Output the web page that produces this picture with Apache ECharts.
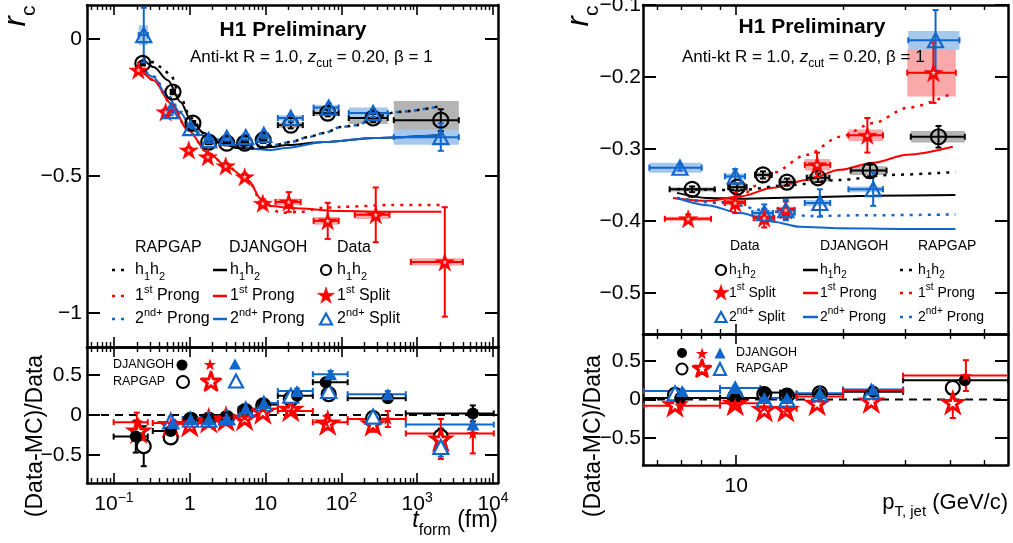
<!DOCTYPE html>
<html><head><meta charset="utf-8">
<script src="https://cdn.jsdelivr.net/npm/echarts@6/dist/echarts.min.js"></script>
<style>html,body{margin:0;padding:0;background:#fff}#c{width:1013px;height:543px}</style>
</head><body><div id="c"></div>
<script>
// ================= DATA =================
// ---- Left: r_c vs t_form (fm) ----
const L_XRANGE = [0.04406, 11640];
const L_YRANGE = [-1.125, 0.125];
const LR_YRANGE = [-0.85, 0.85];
const L_XTICK_VALUES = [0.1, 1, 10, 100, 1000, 10000];
const L_XTICK_LABELS = ['10{s|\u22121}', '1', '10', '10{s|2}', '10{s|3}', '10{s|4}'];
const L_YTICKS = [-1, -0.5, 0];
const R_YTICKS_RATIO = [-0.5, 0, 0.5];

// Data h1h2 (open circles)
const L_h1h2_x   = [0.24, 0.6, 1.1, 1.78, 3.08, 5.3, 9.3, 21.5, 66, 262, 2048];
const L_h1h2_y   = [-0.088, -0.193, -0.307, -0.376, -0.38, -0.38, -0.369, -0.314, -0.27, -0.288, -0.296];
const L_h1h2_xlo = [0.225, 0.56, 1.02, 1.62, 2.8, 4.8, 8.4, 14.5, 43, 125, 491];
const L_h1h2_xhi = [0.255, 0.64, 1.18, 1.95, 3.4, 5.9, 10.3, 31, 92, 409, 3540];
const L_h1h2_err = [0.008, 0.008, 0.008, 0.008, 0.008, 0.008, 0.01, 0.012, 0.012, 0.015, 0.04];
const L_h1h2_sys = [0.008, 0.012, 0.008, 0.006, 0.006, 0.006, 0.008, 0.01, 0.01, 0.022, 0.07];
// Data 1st split (stars)
const L_s1_x   = [0.21, 0.48, 0.97, 1.73, 2.98, 5.3, 9.2, 20.2, 66, 284, 2312];
const L_s1_y   = [-0.113, -0.266, -0.405, -0.43, -0.463, -0.503, -0.6, -0.595, -0.664, -0.642, -0.814];
const L_s1_xlo = [0.195, 0.44, 0.9, 1.6, 2.75, 4.9, 8.3, 13.5, 43, 150, 824];
const L_s1_xhi = [0.225, 0.52, 1.05, 1.88, 3.25, 5.8, 10.3, 29, 92, 430, 4000];
const L_s1_err = [0.01, 0.012, 0.01, 0.01, 0.01, 0.012, 0.015, 0.036, 0.066, 0.1, 0.2];
const L_s1_sys = [0.008, 0.01, 0.008, 0.008, 0.008, 0.01, 0.012, 0.012, 0.014, 0.015, 0.013];
// Data 2nd+ split (triangles)
const L_s2_x   = [0.247, 0.56, 1.03, 1.78, 3.08, 5.48, 9.47, 21.5, 68, 262, 2048];
const L_s2_y   = [0.015, -0.263, -0.325, -0.369, -0.361, -0.358, -0.35, -0.288, -0.25, -0.27, -0.358];
const L_s2_xlo = [0.212, 0.52, 0.95, 1.6, 2.78, 4.95, 8.5, 14.5, 43, 125, 491];
const L_s2_xhi = [0.28, 0.6, 1.12, 1.98, 3.4, 6.05, 10.6, 31, 92, 409, 3540];
const L_s2_err = [0.1, 0.015, 0.01, 0.01, 0.01, 0.01, 0.012, 0.012, 0.015, 0.015, 0.05];
const L_s2_sys = [0.036, 0.01, 0.008, 0.006, 0.006, 0.006, 0.008, 0.01, 0.01, 0.02, 0.028];

// Model curves (left)
const L_dj_h1h2_x = [0.206, 0.24, 0.334, 0.513, 0.759, 1.03, 1.53, 2.57, 4.31, 7.0, 11.7, 19.5, 58.9, 269, 2089];
const L_dj_h1h2_y = [-0.088, -0.077, -0.102, -0.15, -0.23, -0.296, -0.343, -0.38, -0.398, -0.401, -0.394, -0.387, -0.376, -0.361, -0.35];
const L_rg_h1h2_x = [0.24, 0.334, 0.415, 0.56, 0.76, 1.03, 1.63, 2.57, 4.31, 7.0, 11.7, 21.5, 36, 58.9, 98, 164, 269, 552, 2048];
const L_rg_h1h2_y = [-0.069, -0.084, -0.102, -0.131, -0.215, -0.288, -0.35, -0.38, -0.394, -0.398, -0.39, -0.376, -0.358, -0.343, -0.321, -0.314, -0.285, -0.266, -0.245];
const L_dj_p1_x = [0.206, 0.334, 0.562, 0.942, 1.74, 3.16, 5.89, 8.71, 11.7, 21.4, 97.7, 457, 2089];
const L_dj_p1_y = [-0.095, -0.15, -0.234, -0.332, -0.416, -0.467, -0.515, -0.584, -0.61, -0.617, -0.628, -0.631, -0.631];
const L_rg_p1_x = [0.206, 0.334, 0.562, 0.942, 1.74, 3.16, 5.89, 8.71, 15.9, 29.2, 53.7, 98, 452, 2089];
const L_rg_p1_y = [-0.095, -0.15, -0.234, -0.332, -0.416, -0.467, -0.515, -0.59, -0.635, -0.631, -0.617, -0.613, -0.606, -0.606];
const L_dj_p2_x = [0.214, 0.334, 0.513, 0.759, 1.03, 1.4, 2.19, 4.07, 7.0, 11.7, 18.6, 58.9, 269, 2089];
const L_dj_p2_y = [-0.095, -0.139, -0.212, -0.27, -0.321, -0.35, -0.365, -0.387, -0.401, -0.405, -0.398, -0.376, -0.361, -0.35];
const L_rg_p2_x = [0.214, 0.334, 0.513, 0.759, 1.03, 1.4, 2.19, 4.07, 7.0, 12.8, 21.5, 36, 58.9, 98, 164, 269, 552, 2048];
const L_rg_p2_y = [-0.095, -0.135, -0.205, -0.265, -0.318, -0.345, -0.362, -0.38, -0.39, -0.387, -0.376, -0.358, -0.343, -0.321, -0.314, -0.285, -0.266, -0.245];

// Left ratio (Data-MC)/Data
const LR_binlo = [0.099, 0.325, 0.81, 1.4, 2.4, 4.4, 7.9, 14.5, 42, 121, 707];
const LR_binhi = [0.279, 0.653, 1.4, 2.4, 4.4, 7.9, 14.5, 42, 121, 707, 10230];
const LR_dj_h1h2_x = [0.194, 0.56, 1.03, 1.78, 3.08, 5.4, 9.3, 26, 62, 409, 5420];
const LR_dj_h1h2_y = [-0.27, -0.2, -0.05, -0.06, -0.03, 0.06, 0.13, 0.24, 0.41, 0.21, 0.02];
const LR_dj_h1h2_e = [0.2, 0.04, 0.02, 0.02, 0.02, 0.02, 0.03, 0.03, 0.04, 0.04, 0.1];
const LR_rg_h1h2_x = [0.247, 0.56, 1.03, 1.78, 3.08, 5.4, 9.3, 21.5, 68, 262, 2048];
const LR_rg_h1h2_y = [-0.39, -0.28, -0.06, -0.06, -0.04, 0.05, 0.12, 0.2, 0.26, -0.04, -0.27];
const LR_rg_h1h2_e = [0.25, 0.04, 0.02, 0.02, 0.02, 0.02, 0.03, 0.03, 0.04, 0.04, 0.1];
const LR_dj_s1_x = [0.2, 0.56, 1.0, 1.78, 3.0, 5.3, 9.2, 22, 62, 409, 5420];
const LR_dj_s1_y = [-0.09, -0.1, -0.08, -0.07, -0.04, -0.02, 0.08, 0.05, -0.09, -0.05, -0.23];
const LR_dj_s1_e = [0.12, 0.04, 0.02, 0.02, 0.02, 0.03, 0.04, 0.05, 0.08, 0.1, 0.25];
const LR_rg_s1_x = [0.212, 0.56, 1.0, 1.78, 3.0, 5.3, 9.2, 21.5, 66, 262, 2048];
const LR_rg_s1_y = [-0.2, -0.12, -0.12, -0.07, -0.05, -0.04, 0.04, 0.07, -0.1, -0.11, -0.3];
const LR_rg_s1_e = [0.12, 0.04, 0.02, 0.02, 0.02, 0.03, 0.04, 0.05, 0.08, 0.1, 0.25];
const LR_dj_s2_x = [null, 0.6, 1.03, 1.78, 3.08, 5.48, 9.47, 26, 72, 409, 5420];
const LR_dj_s2_y = [null, -0.1, -0.05, -0.05, -0.04, 0.08, 0.15, 0.3, 0.51, 0.26, -0.12];
const LR_dj_s2_e = [null, 0.04, 0.02, 0.02, 0.02, 0.02, 0.03, 0.03, 0.04, 0.04, 0.1];
const LR_rg_s2_x = [null, 0.56, 1.03, 1.78, 3.08, 5.48, 9.47, 21.5, 68, 262, 2048];
const LR_rg_s2_y = [null, -0.08, -0.06, -0.06, -0.03, 0.07, 0.14, 0.24, 0.3, -0.02, -0.4];
const LR_rg_s2_e = [null, 0.06, 0.02, 0.02, 0.02, 0.02, 0.03, 0.03, 0.04, 0.04, 0.12];

// ---- Right: r_c vs pT,jet (GeV/c) ----
const R_XRANGE = [5.47, 58.2];
const R_YRANGE = [-0.557, -0.1];
const R_XTICK_MAJOR = [10];
const R_XTICK_LABELS = ['10'];
const R_XTICK_MINOR = [6, 7, 8, 9, 20, 30, 40, 50];
const R_YTICKS = [-0.5, -0.4, -0.3, -0.2, -0.1];

const R_h1h2_x   = [7.52, 10.07, 11.9, 13.9, 17.0, 23.8, 37.1];
const R_h1h2_y   = [-0.356, -0.353, -0.336, -0.346, -0.34, -0.33, -0.283];
const R_h1h2_xlo = [6.5, 9.5, 11.3, 13.3, 15.8, 21.0, 31.0];
const R_h1h2_xhi = [8.7, 10.7, 12.6, 14.6, 18.3, 26.5, 44.0];
const R_h1h2_err = [0.004, 0.005, 0.005, 0.005, 0.006, 0.008, 0.015];
const R_h1h2_sys = [0.003, 0.006, 0.004, 0.005, 0.005, 0.006, 0.008];
const R_s1_x   = [7.33, 9.94, 12.0, 13.8, 16.9, 23.4, 35.9];
const R_s1_y   = [-0.397, -0.375, -0.396, -0.385, -0.322, -0.281, -0.194];
const R_s1_xlo = [6.3, 9.3, 11.2, 13.1, 15.6, 20.7, 30.3];
const R_s1_xhi = [8.5, 10.6, 12.8, 14.6, 18.4, 25.9, 41.5];
const R_s1_err = [0.006, 0.014, 0.013, 0.012, 0.017, 0.024, 0.042];
const R_s1_sys = [0.003, 0.004, 0.005, 0.005, 0.008, 0.008, 0.033];
const R_s2_x   = [6.95, 9.94, 12.0, 13.8, 17.2, 24.3, 36.4];
const R_s2_y   = [-0.326, -0.338, -0.389, -0.385, -0.375, -0.356, -0.149];
const R_s2_xlo = [5.7, 9.3, 11.1, 13.1, 15.6, 20.7, 30.5];
const R_s2_xhi = [8.0, 10.6, 12.7, 14.6, 18.4, 25.9, 42.5];
const R_s2_err = [0.004, 0.01, 0.012, 0.014, 0.019, 0.023, 0.042];
const R_s2_sys = [0.007, 0.004, 0.004, 0.004, 0.004, 0.004, 0.013];

const R_dj_h1h2_x = [6.82, 8.28, 10.3, 15.8, 24.3, 41.4];
const R_dj_h1h2_y = [-0.361, -0.368, -0.369, -0.367, -0.365, -0.364];
const R_rg_h1h2_x = [6.82, 10.3, 14.2, 19.6, 27.1, 41.4];
const R_rg_h1h2_y = [-0.356, -0.357, -0.35, -0.343, -0.336, -0.332];
const R_dj_p1_x = [6.65, 8.28, 10.26, 12.7, 15.8, 19.6, 24.3, 30.3, 40.7];
const R_dj_p1_y = [-0.368, -0.372, -0.366, -0.354, -0.343, -0.329, -0.319, -0.308, -0.297];
const R_rg_p1_x = [6.82, 8.84, 10.26, 11.5, 12.7, 15.8, 19.6, 24.3, 30.3, 40.7];
const R_rg_p1_y = [-0.368, -0.375, -0.366, -0.35, -0.333, -0.308, -0.283, -0.264, -0.243, -0.222];
const R_dj_p2_x = [6.82, 8.28, 10.26, 12.7, 15.1, 19.6, 28.9, 41.4];
const R_dj_p2_y = [-0.368, -0.378, -0.389, -0.401, -0.408, -0.41, -0.411, -0.411];
const R_rg_p2_x = [6.82, 9.19, 12.7, 16.1, 24.3, 41.4];
const R_rg_p2_y = [-0.368, -0.375, -0.387, -0.393, -0.392, -0.391];

// Right ratio
const RR_binlo = [5.47, 9.01, 11.7, 13.3, 14.8, 20.0, 29.5];
const RR_binhi = [9.01, 11.7, 13.3, 14.8, 20.0, 29.5, 58.2];
const RR_dj_h1h2_x = [6.96, 9.94, 12.0, 13.9, 17.2, 24.3, 44.0];
const RR_dj_h1h2_y = [0.02, 0.02, 0.09, 0.06, 0.07, 0.1, 0.25];
const RR_dj_h1h2_e = [0.02, 0.02, 0.02, 0.02, 0.02, 0.03, 0.05];
const RR_rg_h1h2_x = [6.73, 9.94, 12.0, 13.9, 17.2, 24.0, 40.7];
const RR_rg_h1h2_y = [0.06, 0.04, 0.07, 0.05, 0.08, 0.04, 0.15];
const RR_rg_h1h2_e = [0.02, 0.02, 0.02, 0.02, 0.02, 0.03, 0.05];
const RR_dj_s1_x = [6.96, 9.94, 12.0, 13.9, 17.2, 24.3, 44.3];
const RR_dj_s1_y = [-0.08, -0.05, -0.1, -0.12, 0.04, 0.12, 0.31];
const RR_dj_s1_e = [0.03, 0.03, 0.03, 0.03, 0.03, 0.04, 0.2];
const RR_rg_s1_x = [6.73, 9.94, 12.0, 13.8, 16.9, 24.0, 40.7];
const RR_rg_s1_y = [-0.07, -0.05, -0.13, -0.13, -0.05, -0.02, -0.04];
const RR_rg_s1_e = [0.03, 0.03, 0.03, 0.03, 0.03, 0.04, 0.2];
const RR_dj_s2_x = [7.05, 9.94, 12.0, 13.9, 17.2, 24.3, null];
const RR_dj_s2_y = [0.11, 0.15, 0.02, 0.02, 0.08, 0.13, null];
const RR_dj_s2_e = [0.02, 0.02, 0.02, 0.02, 0.02, 0.03, null];
const RR_rg_s2_x = [6.73, 9.94, 12.0, 13.9, 17.2, 24.0, null];
const RR_rg_s2_y = [0.08, 0.13, 0.0, 0.0, 0.07, 0.1, null];
const RR_rg_s2_e = [0.02, 0.02, 0.02, 0.02, 0.02, 0.03, null];

// ================= STYLE =================
const FONT = '"Liberation Sans", Arial, Helvetica, sans-serif';
const RED = '#ff0000', BLUE = '#1166cc', BLACK = '#000000';
const BAND_GRAY = '#b4b4b4', BAND_RED = '#f9a9a9', BAND_BLUE = '#a5c8ec';
const NONE = 'rgba(0,0,0,0)';
const STAR = 'path://M0,-10L2.245,-3.09L9.511,-3.09L3.633,1.18L5.878,8.09L0,3.82L-5.878,8.09L-3.633,1.18L-9.511,-3.09L-2.245,-3.09Z';
const lg = Math.log10;

// ================= HELPERS =================
function xAxesFor(gi, range, majors, minors, labels) {
  const base = {type: 'value', gridIndex: gi, min: lg(range[0]), max: lg(range[1]), splitLine: {show: false},
    axisLine: {show: true, onZero: false, lineStyle: {color: BLACK, width: 2.5}}};
  const maj = majors.map(lg), mnr = minors.map(lg);
  const tickMaj = {show: true, inside: true, length: 10, customValues: maj, lineStyle: {color: BLACK, width: 1.6}};
  const tickMin = {show: true, inside: true, length: 5, customValues: mnr, lineStyle: {color: BLACK, width: 1.4}};
  const lab = labels ? {show: true, customValues: maj, margin: 8, color: BLACK, fontFamily: FONT, fontSize: 21, lineHeight: 26,
      formatter: (v) => { const i = maj.findIndex(m => Math.abs(m - v) < 1e-6); return i >= 0 ? labels[i] : ''; },
      rich: {b: {fontFamily: FONT, fontSize: 21, lineHeight: 26, verticalAlign: 'middle'},
             s: {fontFamily: FONT, fontSize: 14, lineHeight: 16, verticalAlign: 'top'}}} : {show: false};
  return [
    Object.assign({}, base, {position: 'bottom', axisTick: tickMaj, axisLabel: lab}),
    Object.assign({}, base, {position: 'bottom', axisLine: {show: false, onZero: false}, axisTick: tickMin, axisLabel: {show: false}}),
    Object.assign({}, base, {position: 'top', axisTick: tickMaj, axisLabel: {show: false}}),
    Object.assign({}, base, {position: 'top', axisLine: {show: false, onZero: false}, axisTick: tickMin, axisLabel: {show: false}})
  ];
}
function yAxesFor(gi, range, ticks, margin) {
  const base = {type: 'value', gridIndex: gi, min: range[0], max: range[1], splitLine: {show: false},
    axisLine: {show: true, onZero: false, lineStyle: {color: BLACK, width: 2.5}},
    axisTick: {show: true, inside: true, length: 13, customValues: ticks, lineStyle: {color: BLACK, width: 2}}};
  return [
    Object.assign({}, base, {position: 'left', axisLabel: {show: true, customValues: ticks, margin: margin, color: BLACK, fontFamily: FONT, fontSize: 21,
      formatter: v => (v < 0 ? '\u2212' + String(Math.abs(v)) : String(v))}}),
    Object.assign({}, base, {position: 'right', axisLabel: {show: false}})
  ];
}
function errSeries(gi, xs, ys, xlo, xhi, err, color) {
  const data = [];
  xs.forEach((x, i) => {
    if (x == null || ys[i] == null) return;
    data.push([lg(x), ys[i], xlo ? lg(xlo[i]) : 0, xhi ? lg(xhi[i]) : 0, err ? err[i] : 0, xlo ? 1 : 0]);
  });
  return {type: 'custom', xAxisIndex: gi * 4, yAxisIndex: gi * 2, z: 3, clip: true, silent: true,
    encode: {x: 0, y: 1}, data,
    renderItem: (p, api) => {
      const x = api.value(0), y = api.value(1), xl = api.value(2), xh = api.value(3), e = api.value(4), hb = api.value(5);
      const ch = [], cap = 3;
      const L = (x1, y1, x2, y2) => ch.push({type: 'line', shape: {x1, y1, x2, y2}, style: {stroke: color, lineWidth: 2}});
      if (hb) {
        const a = api.coord([xl, y]), b = api.coord([xh, y]);
        L(a[0], a[1], b[0], b[1]); L(a[0], a[1] - cap, a[0], a[1] + cap); L(b[0], b[1] - cap, b[0], b[1] + cap);
      }
      if (e > 0) {
        const t = api.coord([x, y + e]), b = api.coord([x, y - e]);
        L(t[0], t[1], b[0], b[1]); L(t[0] - cap, t[1], t[0] + cap, t[1]); L(b[0] - cap, b[1], b[0] + cap, b[1]);
      }
      return {type: 'group', children: ch};
    }};
}
function bandSeries(gi, xs, ys, xlo, xhi, sys, color) {
  const data = xs.map((x, i) => [lg(xlo[i]), lg(xhi[i]), ys[i], sys[i]]);
  return {type: 'custom', xAxisIndex: gi * 4, yAxisIndex: gi * 2, z: 1, clip: true, silent: true,
    encode: {x: [0, 1], y: 2}, data,
    renderItem: (p, api) => {
      const a = api.coord([api.value(0), api.value(2) + api.value(3)]);
      const b = api.coord([api.value(1), api.value(2) - api.value(3)]);
      return {type: 'rect', shape: {x: a[0], y: a[1], width: b[0] - a[0], height: b[1] - a[1]}, style: {fill: color}};
    }};
}
function curve(gi, xs, ys, color, dotted) {
  return {type: 'line', xAxisIndex: gi * 4, yAxisIndex: gi * 2, data: xs.map((x, i) => [lg(x), ys[i]]),
    showSymbol: false, symbol: 'none', smooth: 0.3, smoothMonotone: 'x', silent: true, z: 2,
    lineStyle: {color, width: dotted ? 2.5 : 2, type: dotted ? [3, 6] : 'solid'}};
}
function marks(gi, xs, ys, symbol, size, fill, stroke, bw, z) {
  const data = [];
  xs.forEach((x, i) => { if (x != null && ys[i] != null) data.push([lg(x), ys[i]]); });
  return {type: 'scatter', xAxisIndex: gi * 4, yAxisIndex: gi * 2, data, symbol, symbolSize: size, silent: true, z: z || 4,
    itemStyle: {color: fill, borderColor: stroke, borderWidth: bw, opacity: 1}};
}
function zeroLine(gi, range) {
  return {type: 'line', xAxisIndex: gi * 4, yAxisIndex: gi * 2, data: [[lg(range[0]), 0], [lg(range[1]), 0]],
    showSymbol: false, symbol: 'none', silent: true, z: 1, lineStyle: {color: BLACK, width: 2, type: [8, 6]}};
}

// minor ticks for left log axis
const L_XTICK_MINOR = [];
for (let n = -2; n <= 4; n++) for (let k = 2; k <= 9; k++) {
  const v = k * Math.pow(10, n);
  if (v > L_XRANGE[0] && v < L_XRANGE[1]) L_XTICK_MINOR.push(v);
}

// ================= SERIES =================
const series = [];
// --- grid 0: left main ---
series.push(bandSeries(0, L_h1h2_x, L_h1h2_y, L_h1h2_xlo, L_h1h2_xhi, L_h1h2_sys, BAND_GRAY));
series.push(bandSeries(0, L_s1_x, L_s1_y, L_s1_xlo, L_s1_xhi, L_s1_sys, BAND_RED));
series.push(bandSeries(0, L_s2_x, L_s2_y, L_s2_xlo, L_s2_xhi, L_s2_sys, BAND_BLUE));
series.push(curve(0, L_dj_h1h2_x, L_dj_h1h2_y, BLACK, false));
series.push(curve(0, L_dj_p1_x, L_dj_p1_y, RED, false));
series.push(curve(0, L_dj_p2_x, L_dj_p2_y, BLUE, false));
series.push(curve(0, L_rg_h1h2_x, L_rg_h1h2_y, BLACK, true));
series.push(curve(0, L_rg_p1_x, L_rg_p1_y, RED, true));
series.push(curve(0, L_rg_p2_x, L_rg_p2_y, BLUE, true));
series.push(errSeries(0, L_h1h2_x, L_h1h2_y, L_h1h2_xlo, L_h1h2_xhi, L_h1h2_err, BLACK));
series.push(errSeries(0, L_s1_x, L_s1_y, L_s1_xlo, L_s1_xhi, L_s1_err, RED));
series.push(errSeries(0, L_s2_x, L_s2_y, L_s2_xlo, L_s2_xhi, L_s2_err, BLUE));
series.push(marks(0, L_h1h2_x, L_h1h2_y, 'circle', 15, NONE, BLACK, 2.2));
series.push(marks(0, L_s1_x, L_s1_y, STAR, [19, 18], RED, RED, 0.5));
series.push(marks(0, L_s1_x, L_s1_y, STAR, [5, 5], '#ffc0c0', '#ffc0c0', 0, 5));
series.push(marks(0, L_s2_x, L_s2_y, 'triangle', [15, 14], NONE, BLUE, 2.2));
// --- grid 1: left ratio ---
series.push(zeroLine(1, L_XRANGE));
series.push(errSeries(1, LR_dj_h1h2_x, LR_dj_h1h2_y, LR_binlo, LR_binhi, LR_dj_h1h2_e, BLACK));
series.push(errSeries(1, LR_dj_s2_x, LR_dj_s2_y, LR_binlo, LR_binhi, LR_dj_s2_e, BLUE));
series.push(errSeries(1, LR_dj_s1_x, LR_dj_s1_y, LR_binlo, LR_binhi, LR_dj_s1_e, RED));
series.push(errSeries(1, LR_rg_h1h2_x, LR_rg_h1h2_y, null, null, LR_rg_h1h2_e, BLACK));
series.push(errSeries(1, LR_rg_s1_x, LR_rg_s1_y, null, null, LR_rg_s1_e, RED));
series.push(errSeries(1, LR_rg_s2_x, LR_rg_s2_y, null, null, LR_rg_s2_e, BLUE));
series.push(marks(1, LR_rg_h1h2_x, LR_rg_h1h2_y, 'circle', 14, '#fff', BLACK, 2.2));
series.push(marks(1, LR_rg_s1_x, LR_rg_s1_y, STAR, [19, 18], '#fff', RED, 3));
series.push(marks(1, LR_rg_s2_x, LR_rg_s2_y, 'triangle', [15, 14], '#fff', BLUE, 2.2));
series.push(marks(1, LR_dj_h1h2_x, LR_dj_h1h2_y, 'circle', 12, BLACK, BLACK, 0, 5));
series.push(marks(1, LR_dj_s1_x, LR_dj_s1_y, STAR, [12, 11.5], RED, RED, 0, 5));
series.push(marks(1, LR_dj_s2_x, LR_dj_s2_y, 'triangle', [13, 12], BLUE, BLUE, 0, 5));
// --- grid 2: right main ---
series.push(bandSeries(2, R_h1h2_x, R_h1h2_y, R_h1h2_xlo, R_h1h2_xhi, R_h1h2_sys, BAND_GRAY));
series.push(bandSeries(2, R_s1_x, R_s1_y, R_s1_xlo, R_s1_xhi, R_s1_sys, BAND_RED));
series.push(bandSeries(2, R_s2_x, R_s2_y, R_s2_xlo, R_s2_xhi, R_s2_sys, BAND_BLUE));
series.push(curve(2, R_dj_h1h2_x, R_dj_h1h2_y, BLACK, false));
series.push(curve(2, R_dj_p1_x, R_dj_p1_y, RED, false));
series.push(curve(2, R_dj_p2_x, R_dj_p2_y, BLUE, false));
series.push(curve(2, R_rg_h1h2_x, R_rg_h1h2_y, BLACK, true));
series.push(curve(2, R_rg_p1_x, R_rg_p1_y, RED, true));
series.push(curve(2, R_rg_p2_x, R_rg_p2_y, BLUE, true));
series.push(errSeries(2, R_h1h2_x, R_h1h2_y, R_h1h2_xlo, R_h1h2_xhi, R_h1h2_err, BLACK));
series.push(errSeries(2, R_s1_x, R_s1_y, R_s1_xlo, R_s1_xhi, R_s1_err, RED));
series.push(errSeries(2, R_s2_x, R_s2_y, R_s2_xlo, R_s2_xhi, R_s2_err, BLUE));
series.push(marks(2, R_h1h2_x, R_h1h2_y, 'circle', 15, NONE, BLACK, 2.2));
series.push(marks(2, R_s1_x, R_s1_y, STAR, [19, 18], RED, RED, 0.5));
series.push(marks(2, R_s1_x, R_s1_y, STAR, [5, 5], '#ffc0c0', '#ffc0c0', 0, 5));
series.push(marks(2, R_s2_x, R_s2_y, 'triangle', [15, 14], NONE, BLUE, 2.2));
// --- grid 3: right ratio ---
series.push(zeroLine(3, R_XRANGE));
series.push(errSeries(3, RR_dj_h1h2_x, RR_dj_h1h2_y, RR_binlo, RR_binhi, RR_dj_h1h2_e, BLACK));
series.push(errSeries(3, RR_dj_s2_x, RR_dj_s2_y, RR_binlo, RR_binhi, RR_dj_s2_e, BLUE));
series.push(errSeries(3, RR_dj_s1_x, RR_dj_s1_y, RR_binlo, RR_binhi, RR_dj_s1_e, RED));
series.push(errSeries(3, RR_rg_h1h2_x, RR_rg_h1h2_y, null, null, RR_rg_h1h2_e, BLACK));
series.push(errSeries(3, RR_rg_s1_x, RR_rg_s1_y, null, null, RR_rg_s1_e, RED));
series.push(errSeries(3, RR_rg_s2_x, RR_rg_s2_y, null, null, RR_rg_s2_e, BLUE));
series.push(marks(3, RR_rg_h1h2_x, RR_rg_h1h2_y, 'circle', 14, '#fff', BLACK, 2.2));
series.push(marks(3, RR_rg_s1_x, RR_rg_s1_y, STAR, [19, 18], '#fff', RED, 3));
series.push(marks(3, RR_rg_s2_x, RR_rg_s2_y, 'triangle', [15, 14], '#fff', BLUE, 2.2));
series.push(marks(3, RR_dj_h1h2_x, RR_dj_h1h2_y, 'circle', 12, BLACK, BLACK, 0, 5));
series.push(marks(3, RR_dj_s1_x, RR_dj_s1_y, STAR, [12, 11.5], RED, RED, 0, 5));
series.push(marks(3, RR_dj_s2_x, RR_dj_s2_y, 'triangle', [13, 12], BLUE, BLUE, 0, 5));

// ================= GRAPHIC (texts, legends) =================
function richSet(s) {
  return {
    n: {fontFamily: FONT, fontSize: s, lineHeight: Math.round(s * 1.5), verticalAlign: 'middle', fill: BLACK},
    b: {fontFamily: FONT, fontSize: s, fontWeight: 'bold', lineHeight: Math.round(s * 1.5), verticalAlign: 'middle', fill: BLACK},
    it: {fontFamily: FONT, fontSize: s, fontStyle: 'italic', lineHeight: Math.round(s * 1.5), verticalAlign: 'middle', fill: BLACK},
    sub: {fontFamily: FONT, fontSize: Math.round(s * 0.68), lineHeight: Math.round(s * 0.75), verticalAlign: 'bottom', fill: BLACK},
    sup: {fontFamily: FONT, fontSize: Math.round(s * 0.68), lineHeight: Math.round(s * 0.75), verticalAlign: 'top', fill: BLACK}
  };
}
function T(x, y, text, s, align, extra) {
  return Object.assign({type: 'text', x, y, z: 100, silent: true,
    style: {text, rich: richSet(s), align: align || 'left', verticalAlign: 'middle', fontFamily: FONT, fontSize: s, fill: BLACK}}, extra || {});
}
function Ln(x1, x2, y, color, dotted) {
  return {type: 'line', z: 100, silent: true, shape: {x1, y1: y, x2, y2: y}, style: {stroke: color, lineWidth: 2.5, lineDash: dotted ? [3, 6] : null}};
}
function Circ(cx, cy, r, fill, stroke, lw) { return {type: 'circle', z: 100, silent: true, shape: {cx, cy, r}, style: {fill, stroke, lineWidth: lw}}; }
function Star(cx, cy, R, fill, stroke, lw) {
  const pts = [];
  for (let k = 0; k < 10; k++) { const a = -Math.PI / 2 + k * Math.PI / 5; const rr = k % 2 ? R * 0.382 : R; pts.push([cx + rr * Math.cos(a), cy + rr * Math.sin(a)]); }
  return {type: 'polygon', z: 100, silent: true, shape: {points: pts}, style: {fill, stroke, lineWidth: lw, lineJoin: 'round'}};
}
function Tri(cx, cy, w, h, fill, stroke, lw) {
  return {type: 'polygon', z: 100, silent: true, shape: {points: [[cx, cy - h / 2], [cx + w / 2, cy + h / 2], [cx - w / 2, cy + h / 2]]}, style: {fill, stroke, lineWidth: lw}};
}

const graphics = [
  // titles
  T(293, 30, '{b|H1 Preliminary}', 21, 'center'),
  T(812, 27, '{b|H1 Preliminary}', 21, 'center'),
  T(190, 57, '{n|Anti-kt R = 1.0, }{it|z}{sub|cut}{n| = 0.20, \u03b2 = 1}', 17, 'left'),
  T(682, 57, '{n|Anti-kt R = 1.0, }{it|z}{sub|cut}{n| = 0.20, \u03b2 = 1}', 17, 'left'),
  // axis titles
  T(16, 16, '{it|r}{sub|c}', 31, 'center', {rotation: Math.PI / 2}),
  T(579, 16, '{it|r}{sub|c}', 31, 'center', {rotation: Math.PI / 2}),
  T(36, 436, '{n|(Data-MC)/Data}', 23, 'center', {rotation: Math.PI / 2}),
  T(594, 436, '{n|(Data-MC)/Data}', 23, 'center', {rotation: Math.PI / 2}),
  T(498, 521, '{it|t}{sub|form}{n| (fm)}', 23, 'right'),
  T(1008, 503, '{n|p}{sub|T, jet}{n| (GeV/c)}', 22, 'right'),
  // left main legend
  T(135, 248, '{n|RAPGAP}', 16), T(229, 248, '{n|DJANGOH}', 16), T(337, 248, '{n|Data}', 16),
  Ln(112, 127, 270, BLACK, true), T(135, 270, '{n|h}{sub|1}{n|h}{sub|2}', 16),
  Ln(112, 127, 296, RED, true), T(135, 296, '{n|1}{sup|st}{n| Prong}', 16),
  Ln(112, 127, 319, BLUE, true), T(135, 319, '{n|2}{sup|nd+}{n| Prong}', 16),
  Ln(213, 227, 270, BLACK, false), T(230, 270, '{n|h}{sub|1}{n|h}{sub|2}', 16),
  Ln(213, 227, 296, RED, false), T(230, 296, '{n|1}{sup|st}{n| Prong}', 16),
  Ln(213, 227, 319, BLUE, false), T(230, 319, '{n|2}{sup|nd+}{n| Prong}', 16),
  Circ(326, 270, 5, NONE, BLACK, 2.2), T(337, 270, '{n|h}{sub|1}{n|h}{sub|2}', 16),
  Star(326, 296, 9, RED, RED, 0.5), T(337, 296, '{n|1}{sup|st}{n| Split}', 16),
  Tri(326, 319, 12, 11, NONE, BLUE, 2.2), T(337, 319, '{n|2}{sup|nd+}{n| Split}', 16),
  // right main legend
  T(730, 246, '{n|Data}', 14), T(820, 246, '{n|DJANGOH}', 14), T(918, 246, '{n|RAPGAP}', 14),
  Circ(721, 270, 5, NONE, BLACK, 2.2), T(729, 270, '{n|h}{sub|1}{n|h}{sub|2}', 14),
  Star(721, 293, 8.5, RED, RED, 0.5), T(729, 293, '{n|1}{sup|st}{n| Split}', 14),
  Tri(721, 317, 11, 10, NONE, BLUE, 2.2), T(729, 317, '{n|2}{sup|nd+}{n| Split}', 14),
  Ln(803, 818, 270, BLACK, false), T(820, 270, '{n|h}{sub|1}{n|h}{sub|2}', 14),
  Ln(803, 818, 293, RED, false), T(820, 293, '{n|1}{sup|st}{n| Prong}', 14),
  Ln(803, 818, 317, BLUE, false), T(820, 317, '{n|2}{sup|nd+}{n| Prong}', 14),
  Ln(900, 914, 270, BLACK, true), T(918, 270, '{n|h}{sub|1}{n|h}{sub|2}', 14),
  Ln(900, 914, 293, RED, true), T(918, 293, '{n|1}{sup|st}{n| Prong}', 14),
  Ln(900, 914, 317, BLUE, true), T(918, 317, '{n|2}{sup|nd+}{n| Prong}', 14),
  // left ratio legend
  T(113, 365, '{n|DJANGOH}', 12.5), T(113, 382, '{n|RAPGAP}', 12.5),
  Circ(182, 365, 5.5, BLACK, BLACK, 0), Star(210, 365, 6.5, RED, RED, 0), Tri(235, 364, 12, 11, BLUE, BLUE, 0),
  Circ(183, 382, 6, '#fff', BLACK, 2), Star(211, 382, 10, '#fff', RED, 3), Tri(236, 381, 14, 13, '#fff', BLUE, 2.2),
  // right ratio legend
  T(736, 353, '{n|DJANGOH}', 12.5), T(736, 369, '{n|RAPGAP}', 12.5),
  Circ(682, 353, 5, BLACK, BLACK, 0), Star(702, 354, 6.5, RED, RED, 0), Tri(720, 353, 11, 11, BLUE, BLUE, 0),
  Circ(682, 369, 5.5, '#fff', BLACK, 2), Star(702, 369, 9, '#fff', RED, 3), Tri(720, 369, 12, 12, '#fff', BLUE, 2.2)
];

// ================= OPTION =================
const gridBase = {containLabel: false, outerBoundsMode: 'none', show: false};
const option = {
  animation: false,
  backgroundColor: '#fff',
  grid: [
    Object.assign({left: 87, top: 5, width: 411, height: 342}, gridBase),
    Object.assign({left: 87, top: 347, width: 411, height: 136}, gridBase),
    Object.assign({left: 643, top: 5, width: 365, height: 329}, gridBase),
    Object.assign({left: 643, top: 334, width: 365, height: 131}, gridBase)
  ],
  xAxis: [].concat(
    xAxesFor(0, L_XRANGE, L_XTICK_VALUES, L_XTICK_MINOR, null),
    xAxesFor(1, L_XRANGE, L_XTICK_VALUES, L_XTICK_MINOR, L_XTICK_LABELS.map(s => s.replace(/^([^{]+)/, '{b|$1}'))),
    xAxesFor(2, R_XRANGE, R_XTICK_MAJOR, R_XTICK_MINOR, null),
    xAxesFor(3, R_XRANGE, R_XTICK_MAJOR, R_XTICK_MINOR, R_XTICK_LABELS.map(s => '{b|' + s + '}'))
  ),
  yAxis: [].concat(
    yAxesFor(0, L_YRANGE, L_YTICKS, 5),
    yAxesFor(1, LR_YRANGE, R_YTICKS_RATIO, 5),
    yAxesFor(2, R_YRANGE, R_YTICKS, 2),
    yAxesFor(3, LR_YRANGE, R_YTICKS_RATIO, 2)
  ),
  series,
  graphic: {elements: graphics}
};
const chart = echarts.init(document.getElementById('c'), null, {renderer: 'canvas', width: 1013, height: 543});
chart.setOption(option);
</script>
</body></html>
